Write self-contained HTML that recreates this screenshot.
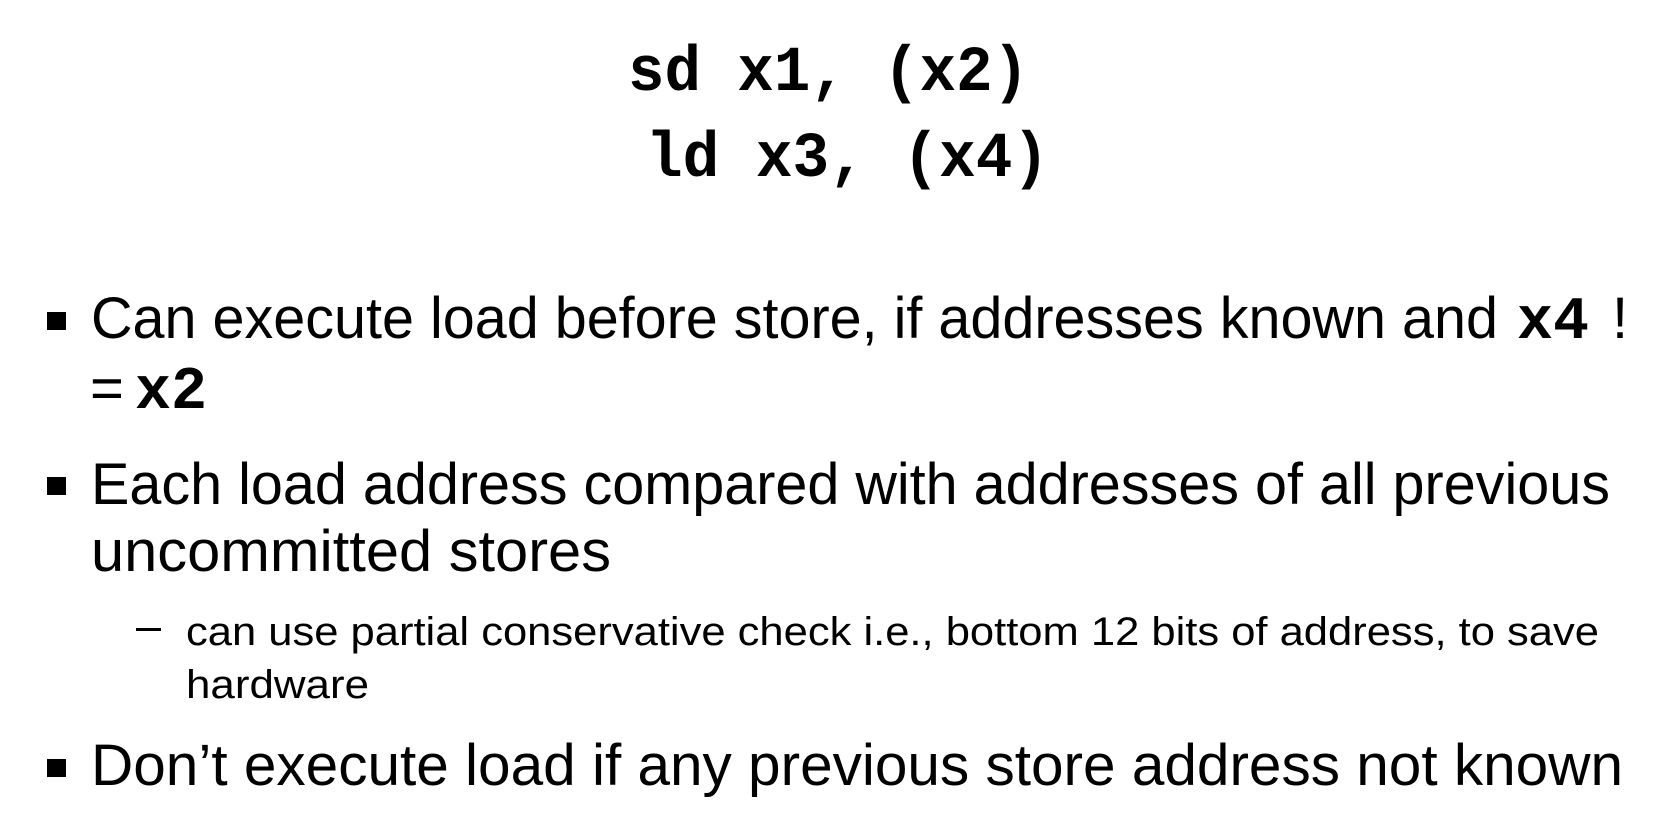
<!DOCTYPE html>
<html><head><meta charset="utf-8"><style>
html,body{margin:0;padding:0;background:#fff;}
svg{display:block;}
.m{font-family:"Liberation Mono",monospace;font-weight:bold;}
.s{font-family:"Liberation Sans",sans-serif;}
</style></head><body>
<svg width="1674" height="822" xmlns="http://www.w3.org/2000/svg">
<rect width="1674" height="822" fill="#fff"/>
<text class="m" x="628" y="90" font-size="64" textLength="401" lengthAdjust="spacingAndGlyphs">sd x1, (x2)</text>
<text class="m" x="646" y="176" font-size="64" textLength="403" lengthAdjust="spacingAndGlyphs">ld x3, (x4)</text>

<rect x="47" y="312" width="19" height="18" fill="#000"/>
<text class="s" x="91" y="338" font-size="58" textLength="1407" lengthAdjust="spacingAndGlyphs">Can execute load before store, if addresses known and</text>
<text class="m" x="1517" y="338" font-size="60" textLength="72" lengthAdjust="spacingAndGlyphs">x4</text>
<text class="s" x="1612" y="338" font-size="58">!</text>
<text class="s" x="90" y="408" font-size="58">=</text>
<text class="m" x="135" y="408" font-size="60" textLength="72" lengthAdjust="spacingAndGlyphs">x2</text>

<rect x="47" y="477" width="19" height="18" fill="#000"/>
<text class="s" x="91" y="504" font-size="58" textLength="1519" lengthAdjust="spacingAndGlyphs">Each load address compared with addresses of all previous</text>
<text class="s" x="91" y="571" font-size="58" textLength="520" lengthAdjust="spacingAndGlyphs">uncommitted stores</text>

<rect x="136" y="628" width="25" height="3" fill="#000"/>
<text class="s" x="186" y="645" font-size="40" textLength="1413" lengthAdjust="spacingAndGlyphs">can use partial conservative check i.e., bottom 12 bits of address, to save</text>
<text class="s" x="186" y="698" font-size="40" textLength="183" lengthAdjust="spacingAndGlyphs">hardware</text>

<rect x="47" y="759" width="19" height="18" fill="#000"/>
<text class="s" x="91" y="785" font-size="58" textLength="1532" lengthAdjust="spacingAndGlyphs">Don’t execute load if any previous store address not known</text>
</svg>
</body></html>
